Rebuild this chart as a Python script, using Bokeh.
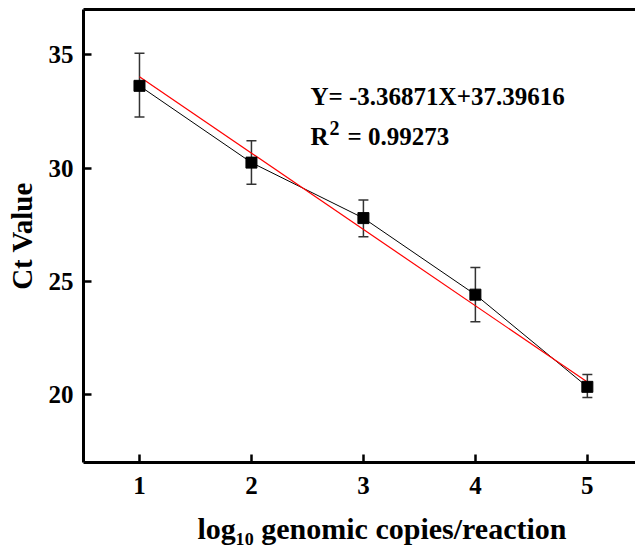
from bokeh.plotting import figure
from bokeh.models import (ColumnDataSource, Whisker, TeeHead, FixedTicker, LinearAxis,
                          Label, Range1d)
from bokeh.embed import file_html
from bokeh.resources import INLINE

# ---- data ----
log_copies = [1, 2, 3, 4, 5]
ct_mean = [33.63, 30.24, 27.79, 24.41, 20.34]
ct_upper = [35.07, 31.21, 28.59, 25.61, 20.88]
ct_lower = [32.25, 29.28, 26.97, 23.21, 19.87]
fit_x = [1, 5]
fit_y = [34.03, 20.55]
x_ticks = [1, 2, 3, 4, 5]
y_ticks = [20, 25, 30, 35]
eq_text = "Y= -3.36871X+37.39616"
r2_text = "= 0.99273"
x_title = "\u2002\u2002\u2002log\u2081\u2080 genomic copies/reaction"
y_title = "Ct Value"

FONT = "Liberation Serif"

p = figure(width=635, height=548, output_backend="svg", toolbar_location=None,
           x_range=Range1d(0.5, 5.43), y_range=Range1d(17, 37),
           min_border_left=83, min_border_right=0, min_border_top=9, min_border_bottom=86)
p.outline_line_color = None
p.xgrid.visible = False
p.ygrid.visible = False
p.background_fill_color = "white"
p.border_fill_color = "white"

for ax, ticks in ((p.xaxis[0], x_ticks), (p.yaxis[0], y_ticks)):
    ax.ticker = FixedTicker(ticks=ticks)
    ax.axis_line_width = 3
    ax.axis_line_color = "black"
    ax.major_tick_in = 8
    ax.major_tick_out = 0
    ax.major_tick_line_width = 2.5
    ax.minor_tick_line_color = None
    ax.major_label_text_font = FONT
    ax.major_label_text_font_style = "bold"
    ax.major_label_text_font_size = "25px"
    ax.major_label_text_color = "black"
    ax.axis_label_text_font = FONT
    ax.axis_label_text_font_style = "bold"
    ax.axis_label_text_color = "black"

p.xaxis[0].major_label_standoff = 14
p.yaxis[0].major_label_standoff = 10
p.yaxis[0].axis_label = y_title
p.yaxis[0].axis_label_text_font_size = "29px"
p.yaxis[0].axis_label_standoff = 8
p.xaxis[0].axis_label = x_title
p.xaxis[0].axis_label_text_font_size = "30px"
p.xaxis[0].axis_label_standoff = 15

top_axis = LinearAxis(ticker=FixedTicker(ticks=[]), axis_line_width=3, axis_line_color="black",
                      major_tick_out=0, major_tick_in=0, minor_tick_out=0, minor_tick_in=0,
                      major_label_standoff=0)
p.add_layout(top_axis, "above")

src = ColumnDataSource(dict(x=log_copies, y=ct_mean, upper=ct_upper, lower=ct_lower))

wh = Whisker(base="x", upper="upper", lower="lower", source=src,
             line_color="#333333", line_width=1.5,
             upper_head=TeeHead(size=10, line_color="#333333", line_width=1.5),
             lower_head=TeeHead(size=10, line_color="#333333", line_width=1.5))
p.add_layout(wh)

p.line("x", "y", source=src, line_color="black", line_width=1)
p.line(fit_x, fit_y, line_color="red", line_width=1.2)
p.scatter("x", "y", source=src, marker="square", size=11, fill_color="black", line_color="black")

# equation annotations
eq_x = 2.527
common = dict(text_font=FONT, text_font_style="bold", text_baseline="alphabetic",
              text_align="left", text_color="black")
p.add_layout(Label(x=eq_x, y=33.147, text=eq_text, text_font_size="25px", **common))
p.add_layout(Label(x=eq_x, y=31.38, text="R", text_font_size="25px", **common))
p.add_layout(Label(x=eq_x, y=31.38, x_offset=19, y_offset=9, text="2",
                   text_font_size="20px", **common))
p.add_layout(Label(x=eq_x, y=31.38, x_offset=37, text=r2_text, text_font_size="25px", **common))

open("out.html", "w").write(file_html(p, INLINE))
